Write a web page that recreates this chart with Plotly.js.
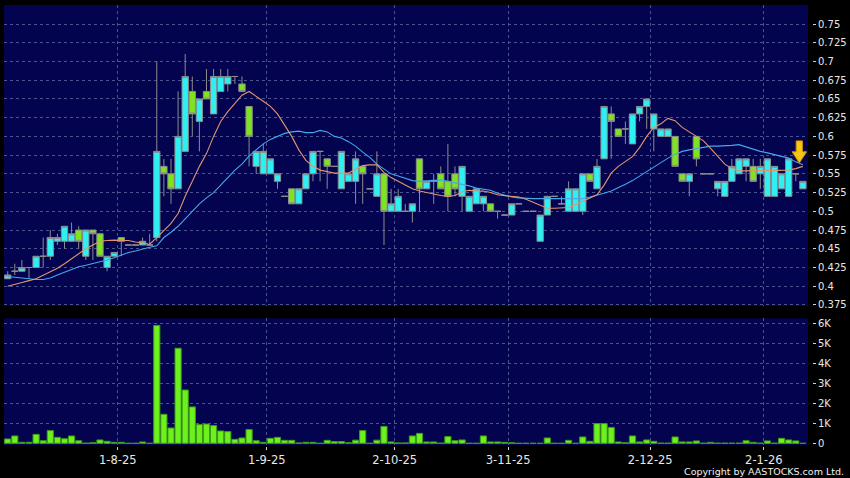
<!DOCTYPE html>
<html>
<head>
<meta charset="utf-8">
<script src="https://cdn.plot.ly/plotly-3.0.1.min.js"></script>
<style>
html,body{margin:0;padding:0;background:#000;}
#chart{width:850px;height:478px;}
</style>
</head>
<body>
<div id="chart"></div>
<script>
// ---- Data (one entry per trading bar) ----
const openP  = [0.41,0.42,0.42,0.425,0.425,0.44,0.44,0.46,0.46,0.46,0.475,0.44,0.475,0.47,0.425,0.44,0.465,0.455,0.455,0.455,0.455,
  0.465,0.56,0.55,0.53,0.58,0.66,0.62,0.66,0.63,0.66,0.67,0.68,0.67,0.64,0.56,0.55,0.55,0.54,0.52,0.53,0.51,0.53,0.55,0.58,0.57,0.56,
  0.53,0.54,0.54,0.56,0.53,0.52,0.55,0.50,0.50,0.50,0.50,0.57,0.53,0.54,0.55,0.54,0.55,0.52,0.50,0.51,0.51,0.51,0.50,0.495,0.495,
  0.51,0.50,0.50,0.46,0.495,0.52,0.51,0.50,0.50,0.50,0.55,0.53,0.57,0.63,0.61,0.61,0.59,0.63,0.64,0.61,0.60,0.60,0.60,0.55,0.54,0.60,
  0.55,0.55,0.53,0.52,0.54,0.55,0.56,0.56,0.55,0.52,0.52,0.53,0.52,0.55,0.53];
const highP  = [0.42,0.43,0.435,0.425,0.44,0.465,0.475,0.47,0.48,0.485,0.48,0.475,0.475,0.47,0.44,0.445,0.465,0.455,0.455,0.465,0.47,
  0.70,0.57,0.57,0.66,0.71,0.68,0.65,0.69,0.69,0.69,0.69,0.68,0.68,0.64,0.58,0.59,0.57,0.55,0.52,0.53,0.53,0.55,0.58,0.58,0.57,0.56,
  0.58,0.55,0.58,0.56,0.53,0.58,0.55,0.53,0.53,0.51,0.51,0.57,0.54,0.55,0.56,0.59,0.56,0.56,0.52,0.53,0.52,0.51,0.50,0.495,0.51,
  0.51,0.50,0.50,0.495,0.52,0.52,0.52,0.54,0.53,0.55,0.55,0.57,0.64,0.64,0.61,0.62,0.63,0.64,0.65,0.63,0.61,0.61,0.60,0.55,0.55,0.60,
  0.55,0.55,0.54,0.54,0.57,0.57,0.57,0.57,0.57,0.57,0.56,0.55,0.57,0.55,0.54];
const lowP   = [0.41,0.415,0.42,0.41,0.425,0.425,0.435,0.455,0.45,0.46,0.45,0.435,0.435,0.44,0.42,0.44,0.44,0.455,0.455,0.455,0.455,
  0.46,0.52,0.51,0.53,0.58,0.60,0.58,0.65,0.63,0.66,0.66,0.67,0.66,0.56,0.55,0.55,0.55,0.53,0.52,0.51,0.51,0.53,0.54,0.54,0.53,0.56,
  0.53,0.54,0.51,0.51,0.53,0.52,0.455,0.50,0.50,0.50,0.485,0.50,0.53,0.51,0.53,0.50,0.52,0.50,0.50,0.51,0.50,0.50,0.49,0.495,0.495,
  0.51,0.50,0.50,0.46,0.495,0.52,0.51,0.50,0.50,0.495,0.54,0.53,0.57,0.57,0.60,0.59,0.59,0.62,0.61,0.58,0.60,0.60,0.56,0.54,0.52,0.56,
  0.55,0.55,0.52,0.52,0.54,0.55,0.54,0.54,0.53,0.52,0.52,0.53,0.52,0.54,0.53];
const closeP = [0.415,0.42,0.425,0.425,0.44,0.44,0.465,0.465,0.48,0.47,0.46,0.475,0.47,0.44,0.44,0.445,0.46,0.455,0.455,0.46,0.455,
  0.58,0.55,0.53,0.60,0.68,0.63,0.65,0.65,0.68,0.68,0.68,0.68,0.66,0.60,0.58,0.58,0.57,0.55,0.52,0.51,0.53,0.55,0.58,0.58,0.56,0.56,
  0.58,0.55,0.57,0.55,0.53,0.55,0.50,0.51,0.52,0.50,0.51,0.53,0.54,0.54,0.53,0.52,0.53,0.56,0.52,0.53,0.52,0.50,0.50,0.495,0.51,
  0.51,0.50,0.50,0.495,0.52,0.52,0.51,0.53,0.53,0.55,0.54,0.56,0.64,0.62,0.60,0.61,0.63,0.64,0.65,0.63,0.61,0.61,0.56,0.54,0.55,0.57,
  0.55,0.55,0.54,0.54,0.56,0.57,0.57,0.54,0.56,0.57,0.56,0.55,0.57,0.55,0.54];
// volume in thousands of shares
const volumeK = [0.22,0.37,0.05,0.05,0.45,0.13,0.64,0.30,0.23,0.37,0.13,0.01,0.03,0.17,0.10,0.05,0.05,0,0,0.07,0,
  5.93,1.46,0.77,4.78,2.68,1.83,0.94,0.97,0.89,0.62,0.59,0.20,0.27,0.69,0.13,0.05,0.25,0.30,0.15,0.15,0.02,0.05,0.05,0,0.15,0.09,
  0.09,0.03,0.16,0.64,0,0.16,0.85,0.07,0.02,0.02,0.37,0.50,0.07,0.07,0.01,0.34,0.13,0.17,0,0,0.37,0.07,0.07,0.05,0.03,
  0,0,0,0,0.27,0,0,0.15,0,0.32,0.10,0.99,0.99,0.80,0.07,0.03,0.37,0.07,0.17,0.10,0.01,0.01,0.32,0.07,0.07,0.12,
  0.01,0.05,0.01,0.01,0.01,0.01,0.13,0.05,0.01,0.12,0.01,0.25,0.17,0.12,0];
// short moving average (orange) and long moving average (blue)
const maShort = [0.400,0.402,0.405,0.4075,0.410,0.4145,0.419,0.424,0.430,0.437,0.444,0.450,0.455,0.460,0.461,0.4615,0.461,0.461,0.459,0.457,0.456,
  0.465,0.474,0.484,0.497,0.520,0.540,0.560,0.577,0.600,0.620,0.633,0.644,0.655,0.660,0.654,0.647,0.640,0.630,0.615,0.600,0.582,0.568,0.560,0.555,0.553,0.551,
  0.551,0.551,0.556,0.561,0.562,0.562,0.552,0.545,0.540,0.535,0.530,0.527,0.525,0.522,0.521,0.520,0.521,0.526,0.528,0.527,0.527,0.525,0.522,0.521,0.520,
  0.519,0.516,0.512,0.507,0.504,0.504,0.504,0.505,0.509,0.513,0.518,0.522,0.535,0.551,0.560,0.566,0.573,0.585,0.600,0.612,0.617,0.624,0.621,0.612,0.606,0.601,
  0.594,0.584,0.573,0.563,0.557,0.554,0.554,0.554,0.554,0.555,0.555,0.555,0.555,0.557,0.560];
const maLong = [0.413,0.412,0.411,0.409,0.409,0.409,0.411,0.415,0.419,0.423,0.426,0.428,0.430,0.433,0.435,0.438,0.442,0.445,0.447,0.450,0.452,
  0.454,0.465,0.472,0.480,0.490,0.500,0.510,0.518,0.525,0.535,0.545,0.555,0.563,0.574,0.582,0.590,0.596,0.600,0.604,0.606,0.607,0.605,0.605,0.608,0.606,0.600,
  0.598,0.593,0.587,0.579,0.572,0.563,0.556,0.550,0.547,0.544,0.541,0.540,0.541,0.542,0.542,0.540,0.538,0.536,0.534,0.531,0.530,0.528,0.524,0.521,0.519,
  0.518,0.517,0.517,0.517,0.517,0.517,0.517,0.517,0.517,0.517,0.519,0.521,0.524,0.527,0.531,0.536,0.541,0.547,0.553,0.560,0.565,0.571,0.576,0.580,0.582,0.584,
  0.586,0.587,0.587,0.587,0.588,0.589,0.586,0.582,0.580,0.578,0.576,0.574,0.571,0.566,0.562];
// date labels and the bar index at which each month marker falls
const dateLabels = ['1-8-25','1-9-25','2-10-25','3-11-25','2-12-25','2-1-26'];
const dateBarIndex = [15,36,54,70,90,106];
const priceTicks = [0.375,0.4,0.425,0.45,0.475,0.5,0.525,0.55,0.575,0.6,0.625,0.65,0.675,0.7,0.725,0.75];
const priceTickText = ['0.375','0.4','0.425','0.45','0.475','0.5','0.525','0.55','0.575','0.6','0.625','0.65','0.675','0.7','0.725','0.75'];
const volTicks = [0,1,2,3,4,5,6];
const volTickText = ['0','1K','2K','3K','4K','5K','6K'];

const barIdx = closeP.map((_, i) => i);
const gridX = dateBarIndex.map(i => i + 0.5);

const gridColor = '#4a5590';
const gridDash = '3px,3px';
const txtColor = '#e8e8e8';

const traces = [
  {
    type: 'candlestick', x: barIdx, open: openP, high: highP, low: lowP, close: closeP,
    xaxis: 'x', yaxis: 'y', whiskerwidth: 0,
    increasing: {line: {color: '#8c8c8c', width: 1}, fillcolor: '#2ef0f2'},
    decreasing: {line: {color: '#8c8c8c', width: 1}, fillcolor: '#7ee420'},
    hoverinfo: 'skip'
  },
  {type: 'scatter', mode: 'lines', x: barIdx, y: maLong, xaxis: 'x', yaxis: 'y',
   line: {color: '#45a8ec', width: 1.1}, hoverinfo: 'skip'},
  {type: 'scatter', mode: 'lines', x: barIdx, y: maShort, xaxis: 'x', yaxis: 'y',
   line: {color: '#e09570', width: 1.1}, hoverinfo: 'skip'},
  {type: 'bar', x: barIdx, y: volumeK, xaxis: 'x2', yaxis: 'y2',
   marker: {color: '#6cf01e', line: {color: '#3f9a14', width: 1}}, hoverinfo: 'skip'}
];

const n = closeP.length;
const ax = n - 1.5; // arrow sits between the last two bars
const arrowPath = `M ${ax-0.45},0.594 L ${ax+0.45},0.594 L ${ax+0.45},0.5795 L ${ax+1.03},0.5795 L ${ax},0.5645 L ${ax-1.03},0.5795 L ${ax-0.45},0.5795 Z`;

const xRange = [-0.52, 112.72];
const layout = {
  width: 850, height: 478,
  margin: {l: 4, r: 34, t: 5, b: 32, pad: 0},
  paper_bgcolor: '#000000', plot_bgcolor: '#03034f',
  showlegend: false, hovermode: false,
  boxgap: 0.1, boxgroupgap: 0.01, bargap: 0.13,
  font: {family: 'DejaVu Sans, Verdana, sans-serif', color: txtColor, size: 10},
  xaxis: {domain: [0, 0.990148], range: xRange, anchor: 'y', rangeslider: {visible: false},
    tickvals: gridX, showticklabels: false, ticks: '', showgrid: true, gridcolor: gridColor, griddash: gridDash,
    zeroline: false, showline: false, fixedrange: true},
  xaxis2: {domain: [0, 0.990148], range: xRange, anchor: 'free', position: 0, matches: 'x',
    tickvals: gridX, ticktext: dateLabels, ticks: 'outside', ticklen: 3, tickcolor: '#d0d0d0', tickwidth: 1,
    showgrid: true, gridcolor: gridColor, griddash: gridDash, zeroline: false, showline: false,
    tickfont: {size: 11.5, color: txtColor}, fixedrange: true},
  yaxis: {domain: [0.31746, 1], range: [0.3736, 0.7754], side: 'right', anchor: 'free', position: 0.995074,
    tickvals: priceTicks, ticktext: priceTickText, ticks: 'outside', ticklen: 3, tickcolor: '#d0d0d0',
    showgrid: true, gridcolor: gridColor, griddash: gridDash, zeroline: false, showline: false,
    tickfont: {size: 10, color: txtColor}, fixedrange: true},
  yaxis2: {domain: [0.00227, 0.28957], range: [-0.085, 6.286], side: 'right', anchor: 'free', position: 0.995074,
    tickvals: volTicks, ticktext: volTickText, ticks: 'outside', ticklen: 3, tickcolor: '#d0d0d0',
    showgrid: true, gridcolor: gridColor, griddash: gridDash, zeroline: false, showline: false,
    tickfont: {size: 10, color: txtColor}, fixedrange: true},
  shapes: [
    {type: 'path', xref: 'x', yref: 'y', path: arrowPath, fillcolor: '#f6c614', line: {color: '#c98a00', width: 1}}
  ],
  annotations: [
    {text: 'Copyright by AASTOCKS.com Ltd.', xref: 'paper', yref: 'paper', x: 1.037, y: -0.0567,
     xanchor: 'right', yanchor: 'middle', showarrow: false, font: {size: 9.5, color: '#f0f0f0'}}
  ]
};

Plotly.newPlot('chart', traces, layout, {staticPlot: true, displayModeBar: false});
</script>
</body>
</html>
